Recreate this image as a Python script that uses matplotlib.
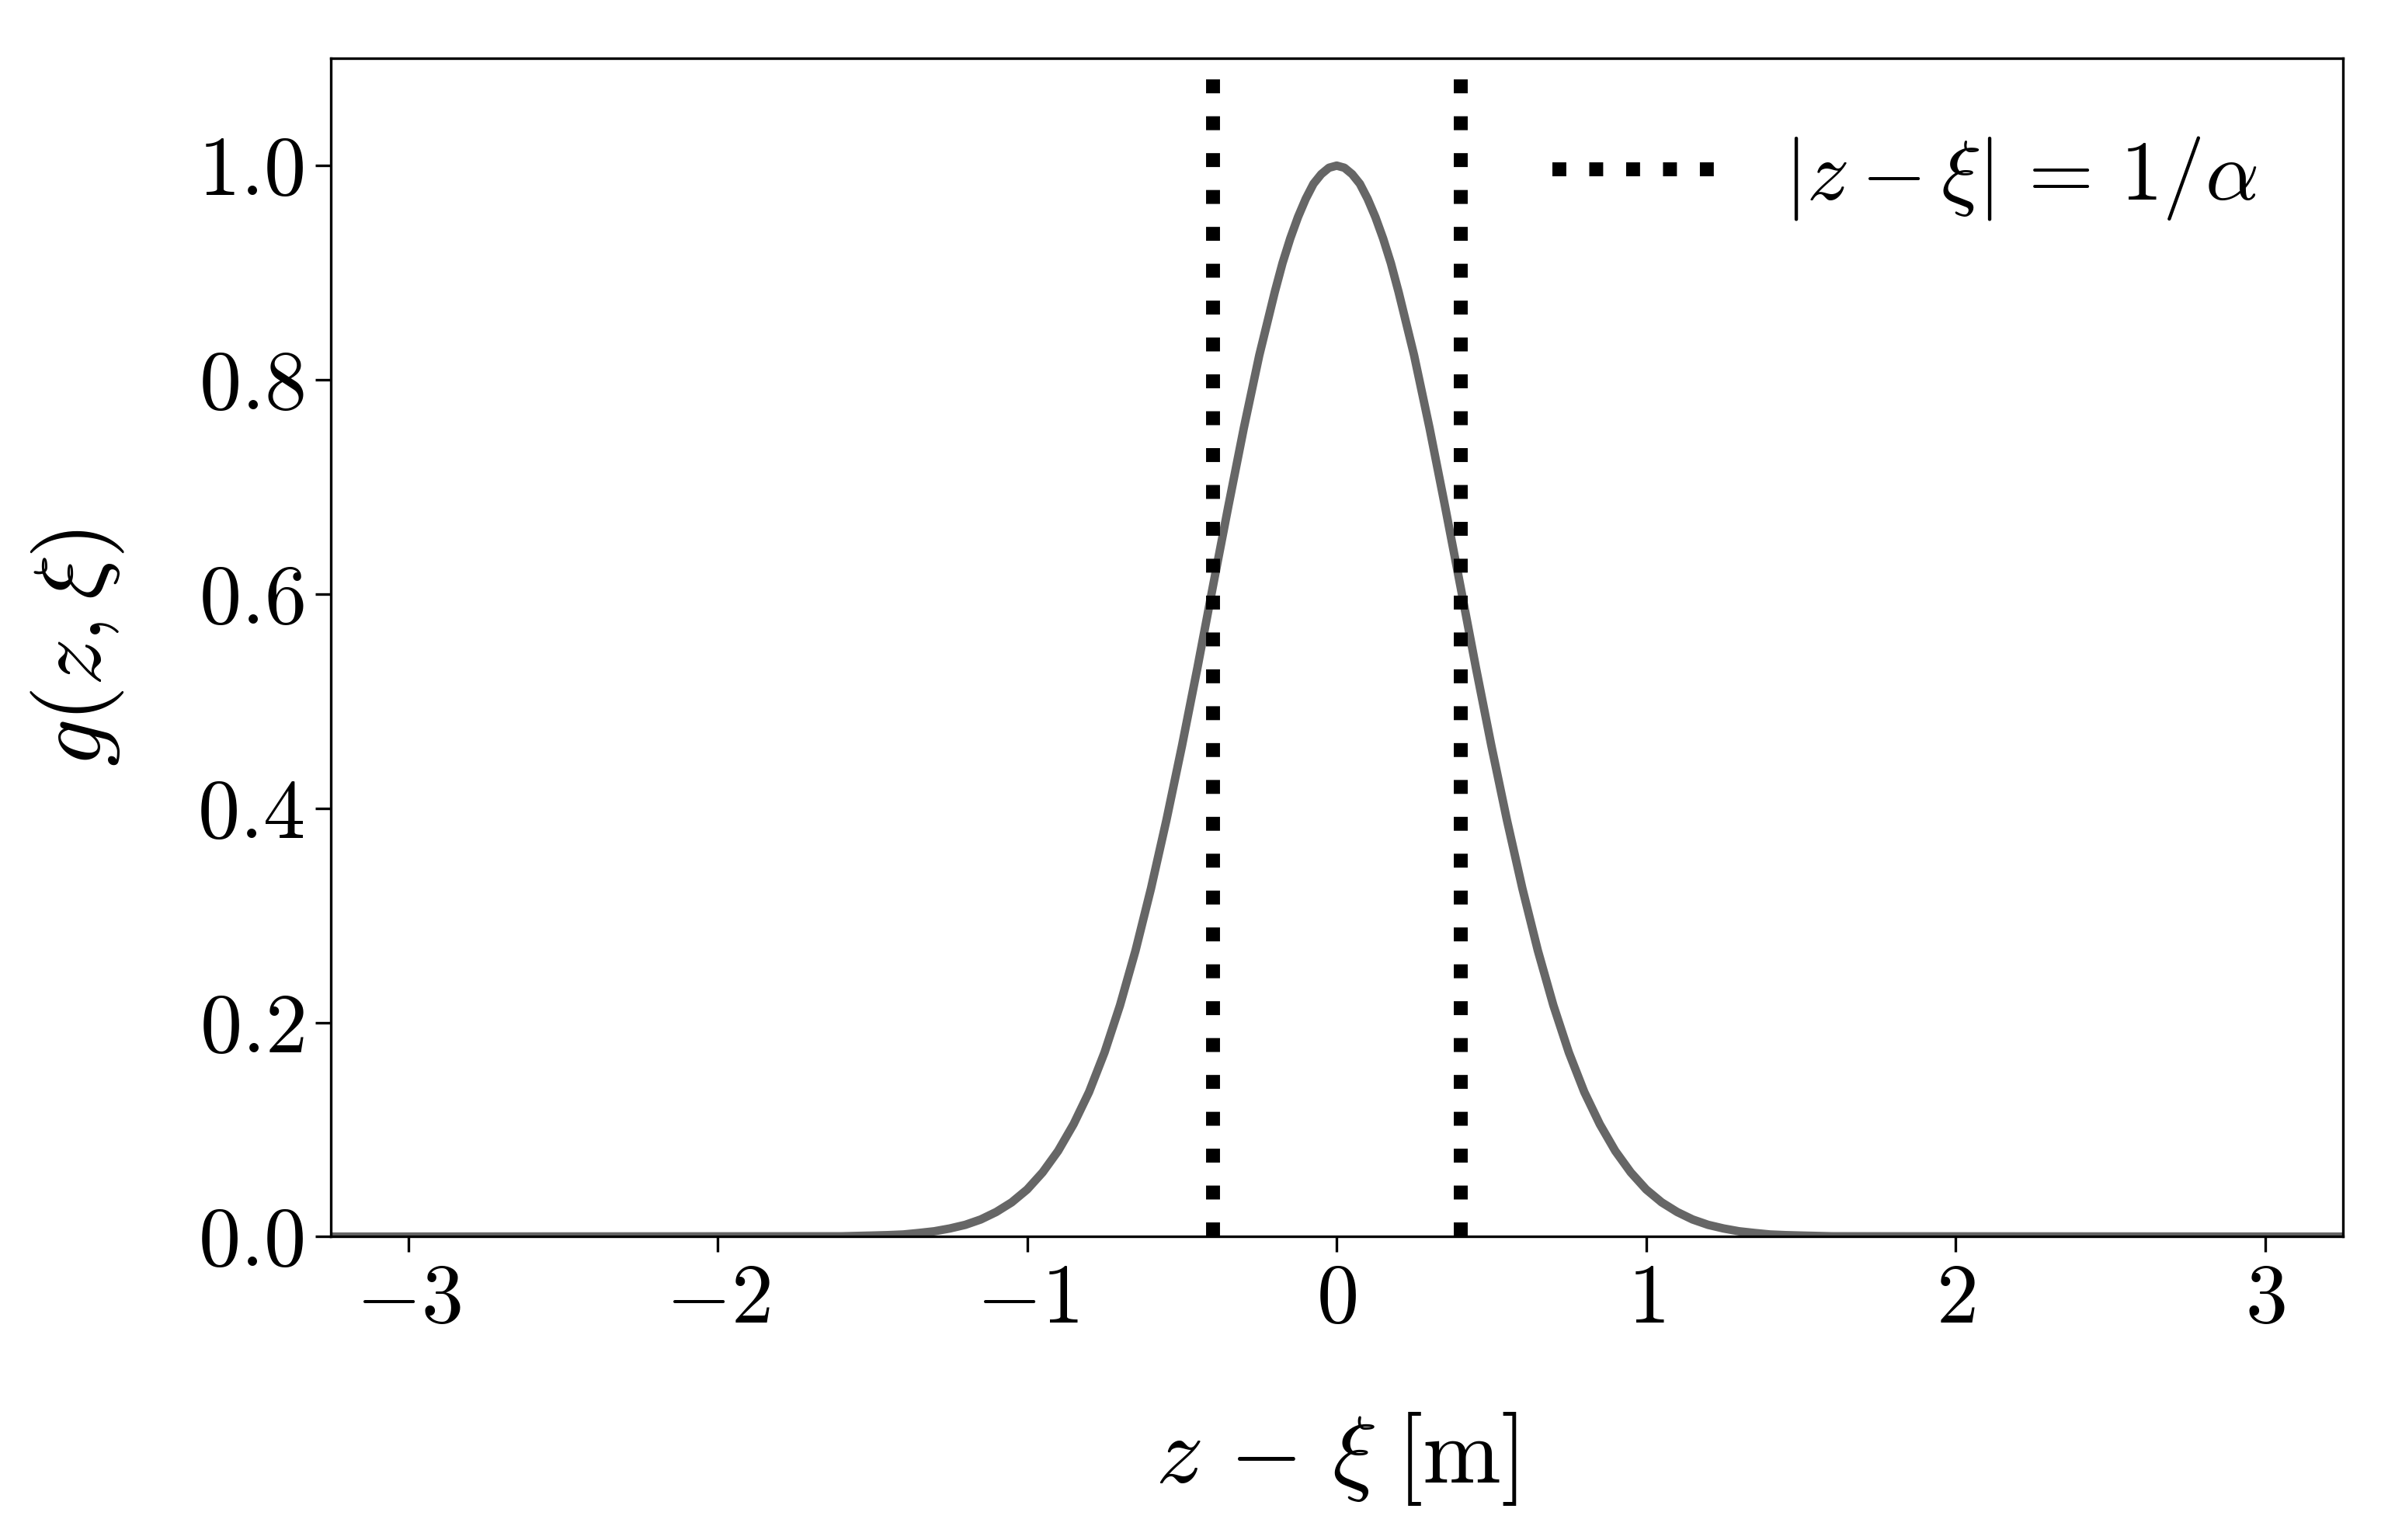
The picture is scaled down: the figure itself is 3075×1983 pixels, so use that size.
import matplotlib
matplotlib.use("Agg")
import matplotlib.pyplot as plt

# Values
offset = [-3.25, -1.6, -1.5, -1.45, -1.4, -1.35, -1.3, -1.25, -1.2, -1.15, -1.1, -1.05,
          -1.0, -0.95, -0.9, -0.85, -0.8, -0.75, -0.7, -0.65, -0.6, -0.55,
          -0.5, -0.45, -0.4, -0.35, -0.3, -0.25, -0.2, -0.175, -0.15, -0.125,
          -0.1, -0.075, -0.05, -0.025,
          0.0,
          0.025, 0.05, 0.075, 0.1, 0.125, 0.15, 0.175, 0.2, 0.25, 0.3, 0.35,
          0.4, 0.45, 0.5, 0.55, 0.6, 0.65, 0.7, 0.75, 0.8, 0.85, 0.9, 0.95,
          1.0, 1.05, 1.1, 1.15, 1.2, 1.25, 1.3, 1.35, 1.4, 1.45, 1.5, 1.6, 3.25]
g_values = [0.0, 0.0003, 0.001, 0.0014, 0.002, 0.0034, 0.005, 0.0076, 0.011, 0.016, 0.023, 0.032,
            0.044, 0.060, 0.080, 0.105, 0.135, 0.172, 0.216, 0.267, 0.325, 0.389,
            0.458, 0.531, 0.607, 0.682, 0.755, 0.823, 0.882, 0.909, 0.932, 0.952,
            0.969, 0.983, 0.992, 0.998,
            1.0,
            0.998, 0.992, 0.983, 0.969, 0.952, 0.932, 0.909, 0.882, 0.823, 0.755, 0.682,
            0.607, 0.531, 0.458, 0.389, 0.325, 0.267, 0.216, 0.172, 0.135, 0.105, 0.080, 0.060,
            0.044, 0.032, 0.023, 0.016, 0.011, 0.0076, 0.005, 0.0034, 0.002, 0.0014, 0.001, 0.0003, 0.0]

# |z - xi| = 1/alpha markers
marker_lines = [-0.4, 0.4]

xticks = [-3, -2, -1, 0, 1, 2, 3]
yticks = [0.0, 0.2, 0.4, 0.6, 0.8, 1.0]

plt.rcParams["mathtext.fontset"] = "cm"
plt.rcParams["font.family"] = "serif"
plt.rcParams["font.serif"] = ["cmr10", "DejaVu Serif"]

fig = plt.figure(figsize=(10.25, 6.61), dpi=300)
ax = fig.add_axes([0.1385, 0.197, 0.8425, 0.765])

ax.plot(offset, g_values, color="#666666", linewidth=2.6)

for i, pos in enumerate(marker_lines):
    ax.axvline(pos, color="black", linestyle=":", linewidth=4.3,
               label=r"$|z-\xi|\,=\,1/\alpha$" if i == 0 else None)

ax.set_xlim(-3.25, 3.25)
ax.set_ylim(0, 1.1)

ax.set_xticks(xticks, labels=[f"${v}$" for v in xticks])
ax.set_yticks(yticks, labels=[f"${v:.1f}$" for v in yticks])
ax.tick_params(labelsize=26, length=4.8, width=0.8)

ax.set_xlabel(r"$z\,-\,\xi\;[\mathrm{m}]$", fontsize=29, labelpad=22)
ax.set_ylabel(r"$g(z,\xi)$", fontsize=29, labelpad=22)

ax.legend(loc="upper right", frameon=False, fontsize=26,
          bbox_to_anchor=(0.995, 1.0), handletextpad=0.75)

fig.savefig("out.png", dpi=300)
